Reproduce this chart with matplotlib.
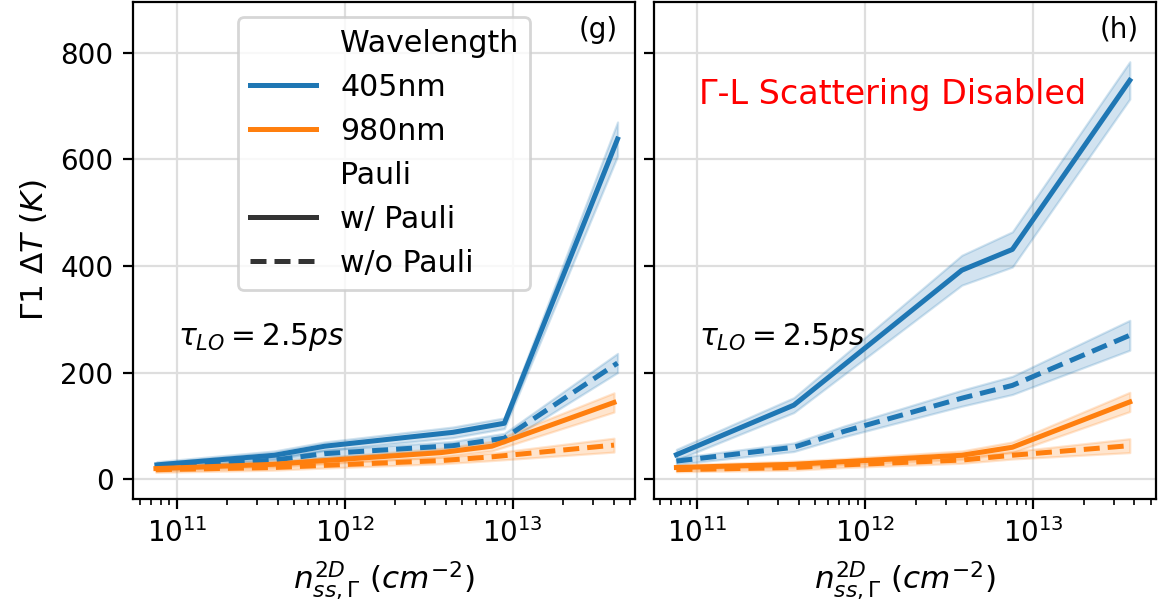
import matplotlib.pyplot as plt
from matplotlib.lines import Line2D

# carrier density (cm^-2)
x_g_405 = [7.6e10, 3.8e11, 7.6e11, 4.4e12, 8.9e12, 4.2e13]
x_g_980 = [7.5e10, 3.75e11, 7.5e11, 3.75e12, 7.5e12, 4.0e13]
x_h = [7.5e10, 3.75e11, 7.5e11, 3.75e12, 7.5e12, 3.75e13]

# panel (g): temperature rise (K) and CI half widths
g_405_pauli = [27, 45, 62, 88, 105, 638]
g_405_nopauli = [22, 36, 48, 63, 77, 218]
g_980_pauli = [20, 28, 35, 50, 62, 144]
g_980_nopauli = [18, 22, 26, 35, 42, 64]
g_405_pauli_err = [6, 8, 8, 10, 10, 32]
g_405_nopauli_err = [5, 6, 7, 8, 9, 18]
g_980_pauli_err = [5, 6, 6, 8, 9, 18]
g_980_nopauli_err = [5, 5, 5, 6, 7, 13]

# panel (h): Gamma-L scattering disabled
h_405_pauli = [46, 139, 215, 392, 431, 748]
h_405_nopauli = [34, 60, 90, 152, 176, 270]
h_980_pauli = [22, 28, 33, 45, 60, 145]
h_980_nopauli = [18, 22, 27, 36, 45, 63]
h_405_pauli_err = [10, 14, 18, 28, 33, 35]
h_405_nopauli_err = [6, 8, 10, 15, 17, 28]
h_980_pauli_err = [5, 6, 6, 8, 10, 18]
h_980_nopauli_err = [4, 5, 5, 6, 7, 13]

blue = '#1f77b4'
orange = '#ff7f0e'
lw = 1.8
dash = (3.2, 1.6)


def draw(ax, x, y, err, color, dashed):
    lo = [v - e for v, e in zip(y, err)]
    hi = [v + e for v, e in zip(y, err)]
    ax.fill_between(x, lo, hi, color=color, alpha=0.2, lw=0.8)
    ln, = ax.plot(x, y, color=color, lw=lw)
    if dashed:
        ln.set_dashes(dash)


plt.rcParams['font.size'] = 10
fig, (ax1, ax2) = plt.subplots(1, 2, figsize=(5.795, 3.03), dpi=200, sharey=True)
fig.subplots_adjust(left=0.1148, right=0.9974, bottom=0.1766, top=0.9967, wspace=0.036)

draw(ax1, x_g_405, g_405_pauli, g_405_pauli_err, blue, False)
draw(ax1, x_g_405, g_405_nopauli, g_405_nopauli_err, blue, True)
draw(ax1, x_g_980, g_980_pauli, g_980_pauli_err, orange, False)
draw(ax1, x_g_980, g_980_nopauli, g_980_nopauli_err, orange, True)

draw(ax2, x_h, h_405_pauli, h_405_pauli_err, blue, False)
draw(ax2, x_h, h_405_nopauli, h_405_nopauli_err, blue, True)
draw(ax2, x_h, h_980_pauli, h_980_pauli_err, orange, False)
draw(ax2, x_h, h_980_nopauli, h_980_nopauli_err, orange, True)

for ax in (ax1, ax2):
    ax.set_xscale('log')
    ax.set_xlim(10 ** 10.739, 10 ** 13.73)
    ax.grid(True, color='#dedede', lw=0.8)
    ax.set_axisbelow(True)
    ax.set_xlabel(r'$n_{ss,\Gamma}^{2D}\ (cm^{-2})$', fontsize=11.2)
    ax.text(0.09, 0.326, r'$\tau_{LO} = 2.5ps$', transform=ax.transAxes,
            va='center', fontsize=10.7)

ax1.set_ylim(-37, 895)
ax1.set_yticks([0, 200, 400, 600, 800])
ax1.set_ylabel(r'$\Gamma1\ \Delta T\ (K)$', fontsize=11.2)

ax1.text(0.926, 0.944, '(g)', transform=ax1.transAxes, ha='center', va='center')
ax2.text(0.926, 0.944, '(h)', transform=ax2.transAxes, ha='center', va='center')
ax2.text(0.475, 0.813, 'Γ-L Scattering Disabled', transform=ax2.transAxes,
         ha='center', va='center', color='red', fontsize=12)

handles = [
    Line2D([], [], color='none'),
    Line2D([], [], color=blue, lw=lw),
    Line2D([], [], color=orange, lw=lw),
    Line2D([], [], color='none'),
    Line2D([], [], color='#333333', lw=lw),
    Line2D([], [], color='#333333', lw=lw, dashes=dash),
]
labels = ['Wavelength', '405nm', '980nm', 'Pauli', 'w/ Pauli', 'w/o Pauli']
ax1.legend(handles, labels, loc='upper center', handlelength=2.2, fontsize=10.8)

plt.savefig('out.png')
